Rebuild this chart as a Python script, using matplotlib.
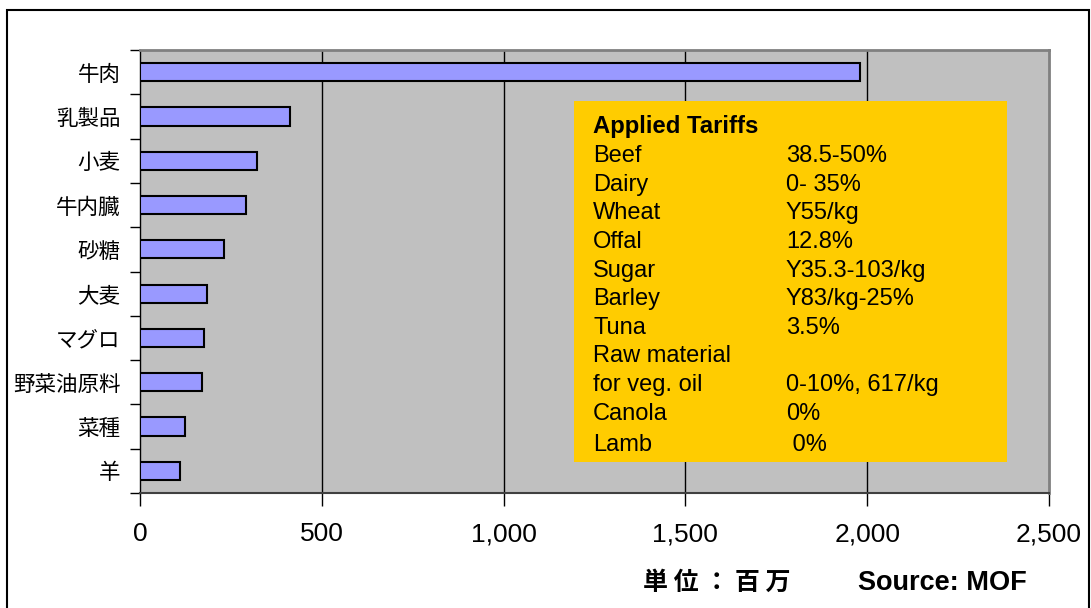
"""Importations agricoles du Japon (MOF) avec encart des droits appliqués."""

import matplotlib

matplotlib.use("Agg")

import matplotlib.pyplot as plt
from matplotlib.patches import Rectangle

# Données (millions)
categories = ["牛肉", "乳製品", "小麦", "牛内臓", "砂糖", "大麦", "マグロ", "野菜油原料", "菜種", "羊"]
values = [1980, 412, 322, 291, 231, 185, 175, 170, 124, 110]
xticks = [0, 500, 1000, 1500, 2000, 2500]

tariff_items = ["Beef", "Dairy", "Wheat", "Offal", "Sugar", "Barley", "Tuna",
                "Raw material", "for veg. oil", "Canola", "Lamb"]
tariff_rates = ["38.5-50%", "0- 35%", "Y55/kg", "12.8%", "Y35.3-103/kg", "Y83/kg-25%",
                "3.5%", "", "0-10%, 617/kg", "0%", " 0%"]

JP = ["Noto Sans CJK JP", "DejaVu Sans"]
LAT = ["Liberation Sans", "DejaVu Sans"]

W, H = 1091, 608
fig = plt.figure(figsize=(W / 100, H / 100), dpi=100)

# cadre extérieur de la figure
fig.patches.append(Rectangle((7 / W, -0.01), (1089 - 7) / W, 1 - 10 / H + 0.01,
                             transform=fig.transFigure, fill=False,
                             edgecolor="black", linewidth=1.5))

L, R, T, B = 140, 1049, 50, 493
ax = fig.add_axes([L / W, 1 - B / H, (R - L) / W, (B - T) / H])
ax.set_facecolor("#C0C0C0")

y = list(range(len(categories)))
ax.barh(y, values, height=0.41, color="#9999FF", edgecolor="black", linewidth=1.5, zorder=3)
ax.set_ylim(len(categories) - 0.5, -0.5)
ax.set_xlim(0, 2500)

ax.set_yticks([i + 0.5 for i in range(-1, len(categories))])
ax.set_yticklabels([])
ax.set_yticks(y, minor=True)
ax.set_yticklabels(categories, minor=True, fontfamily=JP, fontsize=15.5)
ax.tick_params(axis="y", which="minor", length=0, pad=14)
ax.tick_params(axis="y", which="major", length=7, direction="out", width=1)

ax.set_xticks(xticks)
ax.set_xticklabels([f"{v:,}" for v in xticks], fontfamily=LAT, fontsize=19)
ax.tick_params(axis="x", length=9, direction="out", width=1, pad=12)

for v in xticks[1:-1]:
    ax.axvline(v, color="black", linewidth=1, zorder=1)

for side in ("top", "right"):
    ax.spines[side].set_color("#808080")
    ax.spines[side].set_linewidth(2)
ax.spines["left"].set_color("black")
ax.spines["left"].set_linewidth(1)
ax.spines["bottom"].set_color("#404040")
ax.spines["bottom"].set_linewidth(1.5)


def ax_x(px):
    return (px - L) / (R - L)


def ax_y(py):
    return 1 - (py - T) / (B - T)


# encart jaune
ax.add_patch(Rectangle((ax_x(574), ax_y(462)), ax_x(1007) - ax_x(574), ax_y(101) - ax_y(462),
                       transform=ax.transAxes, facecolor="#FFCC00", edgecolor="none", zorder=4))
ax.text(ax_x(593), ax_y(133), "Applied Tariffs", transform=ax.transAxes, fontfamily=LAT,
        fontsize=17.2, fontweight="bold", va="baseline", zorder=5)
baselines = [162, 191, 219, 248, 277, 305, 334, 362, 391, 420, 451]
for item, rate, py in zip(tariff_items, tariff_rates, baselines):
    ax.text(ax_x(593), ax_y(py), item, transform=ax.transAxes, fontfamily=LAT,
            fontsize=17, va="baseline", zorder=5)
    ax.text(ax_x(786), ax_y(py), rate, transform=ax.transAxes, fontfamily=LAT,
            fontsize=17, va="baseline", zorder=5)

fig.text(643 / W, 1 - 590 / H, "単 位 ： 百 万", fontfamily=JP, fontsize=18,
         fontweight="bold", va="baseline")
fig.text(858 / W, 1 - 590 / H, "Source: MOF", fontfamily=LAT, fontsize=19.5,
         fontweight="bold", va="baseline")

fig.savefig("out.png", dpi=100)
